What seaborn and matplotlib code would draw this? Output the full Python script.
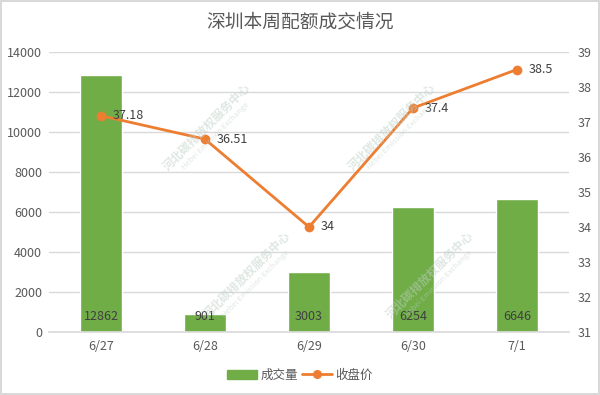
import numpy as np
import matplotlib
matplotlib.use('Agg')
import matplotlib.pyplot as plt
import seaborn as sns
from matplotlib.patches import Patch
from matplotlib.lines import Line2D

# data
dates = ['6/27', '6/28', '6/29', '6/30', '7/1']
volume = [12862, 901, 3003, 6254, 6646]
close_price = [37.18, 36.51, 34, 37.4, 38.5]
title = '深圳本周配额成交情况'
bar_name = '成交量'
line_name = '收盘价'
watermark_cn = '河北碳排放权服务中心'
watermark_en = 'Hebei Emission Exchange'

green = '#70AD47'
orange = '#ED7D31'
grid_c = '#D9D9D9'
text_c = '#595959'
label_c = '#404040'

sns.set_style('white')
plt.rcParams['font.family'] = ['Noto Sans CJK SC', 'DejaVu Sans']

fig = plt.figure(figsize=(6, 3.95), dpi=100, edgecolor=grid_c, linewidth=1.5)
ax = fig.add_axes([49 / 600, 1 - 332 / 395, 520 / 600, 280 / 395])

# bars
sns.barplot(x=dates, y=volume, color=green, width=0.4, saturation=1, ax=ax, zorder=2)
ax.set_ylim(0, 14000)
ax.set_yticks(np.arange(0, 14001, 2000))
ax.set_xlim(-0.5, len(dates) - 0.5)
ax.grid(axis='y', color=grid_c, linewidth=1, zorder=0)
ax.set_axisbelow(True)
for s in ['top', 'left', 'right']:
    ax.spines[s].set_visible(False)
ax.spines['bottom'].set_color(grid_c)
ax.spines['bottom'].set_linewidth(1.2)
ax.tick_params(axis='y', length=0, pad=5, labelsize=9, labelcolor=text_c)
ax.tick_params(axis='x', which='major', length=0, pad=6, labelsize=9, labelcolor=text_c)
ax.set_xticks(np.arange(-0.5, len(dates), 1), minor=True)
ax.tick_params(axis='x', which='minor', length=4, color=grid_c, width=1.2)
ax.set_xlabel('')
ax.set_ylabel('')

for i, v in enumerate(volume):
    ax.annotate(str(v), xy=(i, 0), xytext=(0, 11.5), textcoords='offset points',
                ha='center', va='center', fontsize=9, color=label_c, zorder=5)

# line on the secondary axis
ax2 = ax.twinx()
sns.pointplot(x=dates, y=close_price, color=orange, markers='o', markersize=5.5,
              linewidth=2, ax=ax2, zorder=4)
ax2.set_xlim(-0.5, len(dates) - 0.5)
ax2.set_ylim(31, 39)
ax2.set_yticks(np.arange(31, 40, 1))
for s in ax2.spines.values():
    s.set_visible(False)
ax2.tick_params(axis='y', length=0, pad=6, labelsize=9, labelcolor=text_c)
ax2.set_ylabel('')
ax2.grid(False)

for i, v in enumerate(close_price):
    ax2.annotate(f'{v:g}', xy=(i, v), xytext=(8.5, 0), textcoords='offset points',
                 ha='left', va='center', fontsize=9, color=label_c, zorder=6)

# faint watermarks
for (wx, wy) in [(207, 127), (392, 127), (247, 275), (430, 275)]:
    fig.text(wx / 600, 1 - wy / 395, watermark_cn, rotation=45, ha='center', va='center',
             fontsize=8.5, fontweight='bold', color='#BFD0C6', alpha=0.5, zorder=10)
    fig.text((wx + 9) / 600, 1 - (wy + 9) / 395, watermark_en, rotation=45, ha='center',
             va='center', fontsize=5.5, color='#BFD0C6', alpha=0.5, zorder=10)

fig.text(0.5, 1 - 22 / 395, title, ha='center', va='center', fontsize=13.5, color=text_c)

handles = [Patch(facecolor=green, edgecolor=green),
           Line2D([0], [0], color=orange, linewidth=2, marker='o', markersize=5.5)]
fig.legend(handles, [bar_name, line_name], loc='center', bbox_to_anchor=(0.5, 1 - 375 / 395),
           ncol=2, frameon=False, fontsize=9, labelcolor=text_c, handlelength=2.4,
           handletextpad=0.3, columnspacing=0.3)

fig.savefig('out.png', dpi=100)
